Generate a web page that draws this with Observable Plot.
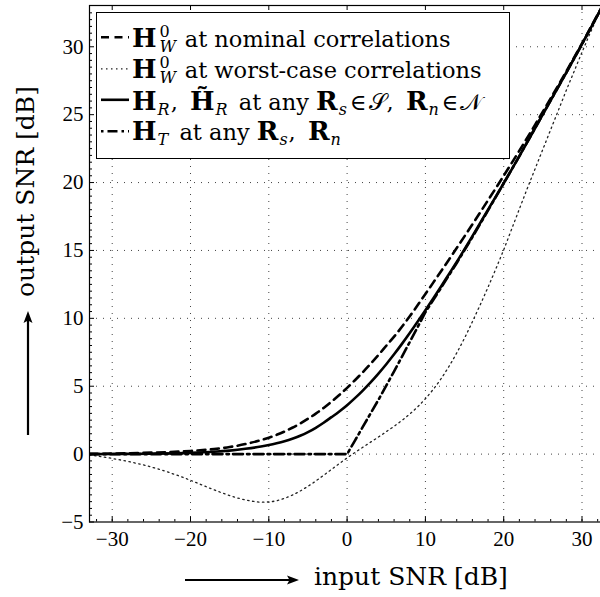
<!DOCTYPE html>
<html><head><meta charset="utf-8">
<script src="https://cdn.jsdelivr.net/npm/d3@7"></script>
<script src="https://cdn.jsdelivr.net/npm/@observablehq/plot@0.6"></script>
<style>
html,body{margin:0;padding:0;background:#fff;}
#wrap{position:relative;width:600px;height:597px;overflow:hidden;background:#fff;}
#wrap > svg:first-child{display:block;}
#legend{position:absolute;left:96px;top:12px;width:414px;height:147px;box-sizing:border-box;border:1px solid #000;background:#fff;font-family:'DejaVu Serif','Liberation Serif',serif;font-size:22.5px;color:#000;}
#legend .row{position:absolute;left:35px;white-space:nowrap;line-height:24px;}
#legend b{font-weight:bold;font-size:26px;}
.ss{display:inline-block;position:relative;width:21px;height:0;}
.ss .sup{position:absolute;left:3px;bottom:7px;font-size:16px;line-height:16px;}
.ss .sub{position:absolute;left:3px;top:-8px;font-size:16px;line-height:16px;font-style:italic;}
.sb{font-size:16px;position:relative;top:5px;font-style:italic;margin-left:1px;margin-right:1px;}
.sb.w{margin-right:4px;}
.cm{margin-right:5px;}
.op{padding:0 2px;}
.lbl{position:absolute;font-family:'DejaVu Serif','Liberation Serif',serif;font-size:25px;white-space:nowrap;color:#000;}
</style></head><body>
<div id="wrap"></div>
<script>
// ---- data ----
const inSolid  = [-32.9,-30,-25,-20,-17,-15,-13,-11,-10,-9,-8,-7,-6,-5,-4,-3,-2,-1,0,1,2,3,4,5,6,7,8,9,10,11,12,13,14,16,18,20,22,24,26,28,30,33];
const outSolid = [0,0.01,0.03,0.09,0.17,0.26,0.39,0.56,0.67,0.8,0.95,1.13,1.35,1.62,1.94,2.31,2.72,3.14,3.6,4.12,4.68,5.28,5.93,6.62,7.35,8.12,8.92,9.75,10.6,11.47,12.35,13.25,14.15,16.05,18.0,19.95,21.95,24.0,26.05,28.1,30.2,33.4];

const inNominal  = [-32.9,-30,-25,-20,-17,-15,-13,-11,-10,-9,-8,-7,-6,-5,-4,-3,-2,-1,0,1,2,3,4,5,6,7,8,9,10,11,12,13,14,16,18,20,22,24,26,28,30,33];
const outNominal = [0.02,0.04,0.11,0.23,0.37,0.52,0.74,1.03,1.21,1.42,1.66,1.94,2.25,2.6,2.98,3.4,3.86,4.35,4.88,5.44,6.03,6.65,7.3,7.98,8.65,9.38,10.15,10.96,11.8,12.63,13.47,14.32,15.18,16.92,18.7,20.5,22.35,24.25,26.2,28.2,30.25,33.45];

const inWorst  = [-32.9,-32,-30,-28,-26,-24,-22,-20,-18,-16,-14,-12,-11,-10,-9,-8,-7,-6,-5,-4,-3,-2,-1,0,1,2,3,4,5,6,7,8,9,10,11,12,13,14,15,16,17,18,19,20,21,22,23,24,25,26,27,28,29,30,31,32,33];
const outWorst = [-0.05,-0.13,-0.32,-0.54,-0.8,-1.12,-1.5,-1.93,-2.4,-2.85,-3.23,-3.48,-3.54,-3.52,-3.43,-3.26,-3.02,-2.72,-2.37,-1.98,-1.56,-1.13,-0.7,-0.28,0.12,0.5,0.88,1.26,1.65,2.05,2.48,2.95,3.48,4.08,4.77,5.55,6.45,7.45,8.55,9.75,11.0,12.3,13.65,15.05,16.55,18.05,19.55,21.0,22.45,23.9,25.35,26.8,28.2,29.6,30.95,32.25,33.5];

const inT  = [-32.9,-20,-10,0,1,2,4,6,8,10,12,14,16,18,20,22,24,26,28,30,33];
const outT = [0,0,0,0,1.0,2.0,4.0,6.1,8.25,10.45,12.25,14.08,15.98,17.95,19.95,21.95,24.0,26.05,28.1,30.2,33.4];

const xTicks = [-30,-20,-10,0,10,20,30];
const yTicks = [-5,0,5,10,15,20,25,30];
const yGrid  = [0,5,10,15,20,25,30];
const xMinor = d3.range(-32,34,2);
const yMinor = d3.range(-4.5,33,0.5).filter(v => v % 5 !== 0);

const legendLabels = [
  '<b>H</b><span class="ss"><span class="sup">0</span><span class="sub">W</span></span> at nominal correlations',
  '<b>H</b><span class="ss"><span class="sup">0</span><span class="sub">W</span></span> at worst-case correlations',
  '<b>H</b><span class="sb">R</span><span class="cm">,</span> <b>H&#771;</b><span class="sb w">R</span> at any <b>R</b><span class="sb">s</span><span class="op">∈</span>𝒮<span class="cm">,</span> <b>R</b><span class="sb">n</span><span class="op">∈</span>𝒩',
  '<b>H</b><span class="sb w">T</span> at any <b>R</b><span class="sb">s</span><span class="cm">,</span> <b>R</b><span class="sb">n</span>'
];
const xLabel = "input SNR [dB]";
const yLabel = "output SNR [dB]";

// ---- build tables ----
const mk = (xs, ys) => xs.map((x, i) => ({x, y: ys[i]}));
const solid = mk(inSolid, outSolid);
const nominal = mk(inNominal, outNominal);
const worst = mk(inWorst, outWorst);
const ht = mk(inT, outT);

const serif = "'Liberation Serif', 'Times New Roman', 'DejaVu Serif', serif";
const chart = Plot.plot({
  width: 600, height: 597,
  marginLeft: 89, marginRight: -5, marginTop: 5, marginBottom: 75.5,
  x: {domain: [-32.9, 33]},
  y: {domain: [-5, 33.04]},
  style: {background: "white", overflow: "hidden", fontFamily: serif},
  marks: [
    Plot.ruleX(xTicks, {stroke: "#444", strokeWidth: 1, strokeDasharray: "1,6"}),
    Plot.ruleY(yGrid, {stroke: "#444", strokeWidth: 1, strokeDasharray: "1,6"}),
    Plot.line(worst, {x: "x", y: "y", stroke: "#222", strokeWidth: 1.3, strokeDasharray: "1.5,3.5", curve: "monotone-x", clip: true}),
    Plot.line(ht, {x: "x", y: "y", stroke: "black", strokeWidth: 2.6, strokeDasharray: "10,4,2.5,4", clip: true}),
    Plot.line(nominal, {x: "x", y: "y", stroke: "black", strokeWidth: 2.6, strokeDasharray: "8,5.5", curve: "monotone-x", clip: true}),
    Plot.line(solid, {x: "x", y: "y", stroke: "black", strokeWidth: 2.6, curve: "monotone-x", clip: true}),
    // inward tick marks
    Plot.tickX(xTicks, {x: d => d, stroke: "black", insetTop: 511.5}),
    Plot.tickX(xTicks, {x: d => d, stroke: "black", insetBottom: 511.5}),
    Plot.tickX(xMinor, {x: d => d, stroke: "black", insetTop: 514}),
    Plot.tickY(yTicks, {y: d => d, stroke: "black", insetRight: 511}),
    Plot.tickY(yMinor, {y: d => d, stroke: "black", insetRight: 513}),
    Plot.frame({stroke: "black", strokeWidth: 1.2}),
    Plot.axisX(xTicks, {tickSize: 0, tickPadding: 9, fontSize: 21, fontFamily: serif, label: null, fill: "black"}),
    Plot.axisY(yTicks, {tickSize: 0, tickPadding: 6, fontSize: 21, fontFamily: serif, label: null, fill: "black"})
  ]
});
const wrap = document.getElementById("wrap");
wrap.appendChild(chart);

// ---- legend ----
const lg = document.createElement("div");
lg.id = "legend";
const rowTops = [12.5, 44, 75.5, 106];
const sampleY = [24.2, 55.8, 86.8, 118.2];
const sampleStyle = [
  {w: 2.6, dash: "8,5.5"}, {w: 1.3, dash: "1.5,3.5"}, {w: 2.6, dash: null}, {w: 2.6, dash: "2.5,4,10,4"}
];
let svgS = '<svg width="412" height="145" style="position:absolute;left:0;top:0">';
sampleStyle.forEach((s, i) => {
  svgS += `<line x1="4" x2="32" y1="${sampleY[i]}" y2="${sampleY[i]}" stroke="${i===1?'#222':'black'}" stroke-width="${s.w}" ${s.dash ? `stroke-dasharray="${s.dash}"` : ""}/>`;
});
svgS += '</svg>';
lg.innerHTML = svgS + legendLabels.map((t, i) => `<div class="row" style="top:${rowTops[i]}px">${t}</div>`).join("");
wrap.appendChild(lg);

// ---- axis labels with arrows ----
const xl = document.createElement("div");
xl.className = "lbl"; xl.textContent = xLabel;
xl.style.left = "314px"; xl.style.top = "562px";
wrap.appendChild(xl);
const yl = document.createElement("div");
yl.className = "lbl"; yl.textContent = yLabel;
yl.style.left = "0px"; yl.style.top = "0px";
yl.style.transformOrigin = "0 0";
yl.style.transform = "translate(11px, 297px) rotate(-90deg)";
wrap.appendChild(yl);
const arr = document.createElementNS("http://www.w3.org/2000/svg", "svg");
arr.setAttribute("width", 600); arr.setAttribute("height", 597);
arr.style.position = "absolute"; arr.style.left = "0"; arr.style.top = "0"; arr.style.pointerEvents = "none";
arr.innerHTML = `
  <line x1="185" y1="580" x2="290" y2="580" stroke="black" stroke-width="2.2"/>
  <path d="M299,580 L287,575.5 L289.5,580 L287,584.5 Z" fill="black"/>
  <line x1="28" y1="435" x2="28" y2="320" stroke="black" stroke-width="2.2"/>
  <path d="M28,311 L23.5,323 L28,320.5 L32.5,323 Z" fill="black"/>`;
wrap.appendChild(arr);
</script>
</body></html>
